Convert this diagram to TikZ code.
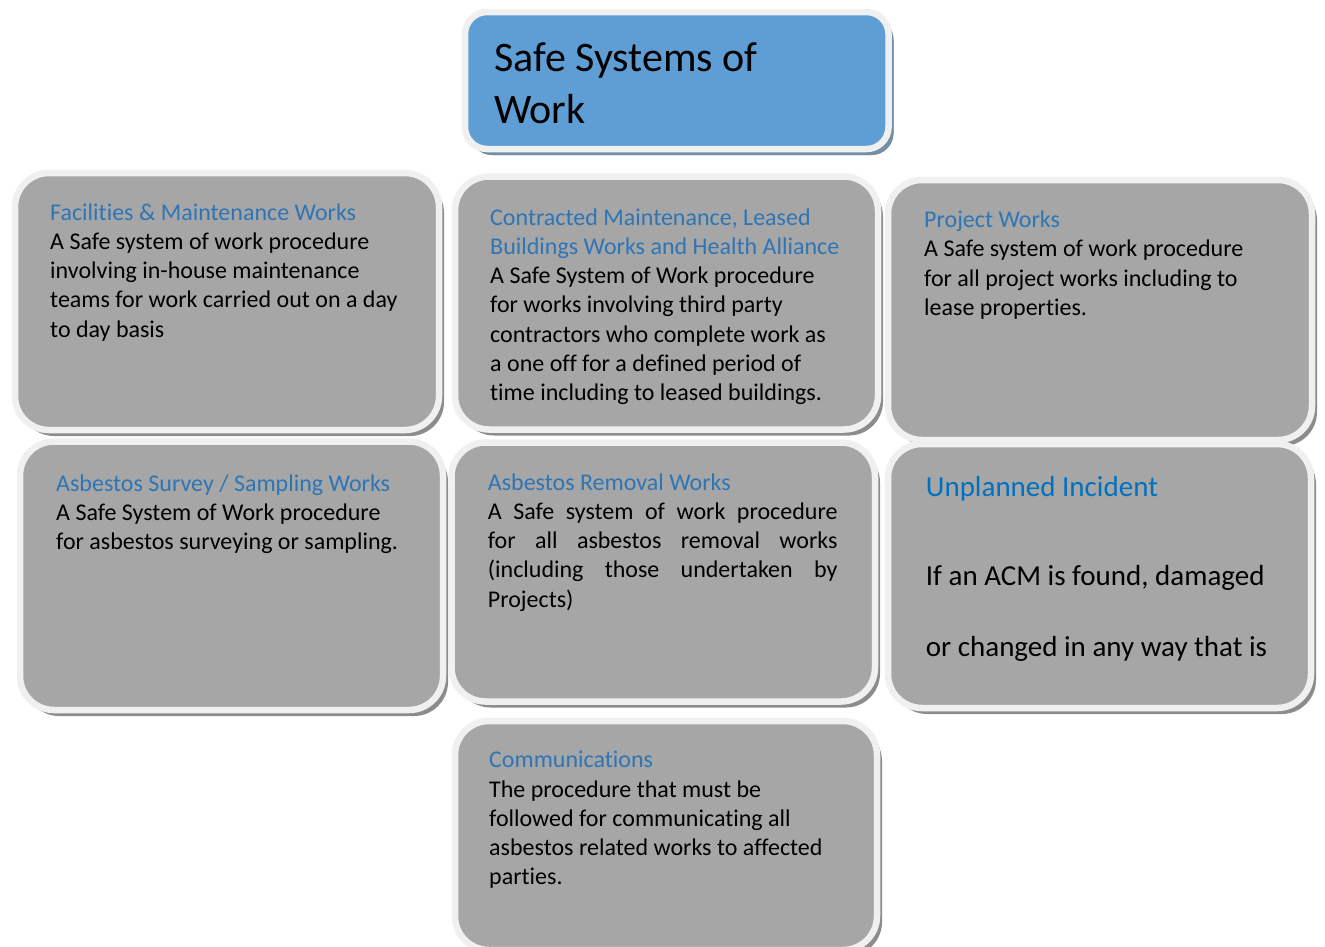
\documentclass[tikz,border=0pt]{standalone}
\usepackage{fontspec}
\setmainfont{Carlito}[Ligatures=NoCommon]
\usetikzlibrary{shadows}
\definecolor{boxgray}{HTML}{A6A6A6}
\definecolor{rimgray}{HTML}{F0F0F0}
\definecolor{headblue}{HTML}{2E75B6}
\definecolor{incblue}{HTML}{0070C0}
\definecolor{titleblue}{HTML}{5F9DD5}

\begin{document}
\begin{tikzpicture}[x=1pt,y=-1pt,
	panel/.style={draw=rimgray, line width=6.5pt, fill=boxgray, rounded corners=34pt, inner sep=0pt,
		drop shadow={shadow xshift=5pt, shadow yshift=-6pt, fill=black!45, opacity=1}},
	titlepanel/.style={panel, fill=titleblue, rounded corners=22pt,
		drop shadow={shadow xshift=5pt, shadow yshift=-6pt, fill=black!40!titleblue!70, opacity=1}},
	txt/.style={anchor=base west, inner sep=0pt, text width=380pt, align=flush left, font=\fontsize{24}{29.3}\selectfont},
	head/.style={text=headblue}]
		\useasboundingbox (0,0) rectangle (1325,946);
		\node[titlepanel, minimum width=423.5pt, minimum height=137pt] (sswBox) at (676.75,80.5) {};
		\node[txt, font=\fontsize{42}{51.7}\selectfont] (ssw) at (494,71.7) {Safe Systems of\\Work};

		\node[panel, minimum width=424pt, minimum height=257pt] (facBox) at (227,301.5) {};
		\node[txt] (fac) at (50,220) {\textcolor{headblue}{Facilities \& Maintenance Works}\\
			A Safe system of work procedure\\
			involving in-house maintenance\\
			teams for work carried out on a day\\
			to day basis};

		\node[panel, minimum width=423pt, minimum height=253pt] (conBox) at (666.5,303) {};
		\node[txt] (con) at (490,225) {\textcolor{headblue}{Contracted Maintenance, Leased}\\
			\textcolor{headblue}{Buildings Works and Health Alliance}\\
			A Safe System of Work procedure\\
			for works involving third party\\
			contractors who complete work as\\
			a one off for a defined period of\\
			time including to leased buildings.};

		\node[panel, minimum width=424pt, minimum height=260pt] (proBox) at (1100,310) {};
		\node[txt] (pro) at (924,227.5) {\textcolor{headblue}{Project Works}\\
			A Safe system of work procedure\\
			for all project works including to\\
			lease properties.};

		\node[panel, minimum width=423pt, minimum height=268.5pt] (surBox) at (231.5,575.75) {};
		\node[txt] (sur) at (56,491) {\textcolor{headblue}{Asbestos Survey / Sampling Works}\\
			A Safe System of Work procedure\\
			for asbestos surveying or sampling.};

		\node[panel, minimum width=423.5pt, minimum height=259pt] (remBox) at (663.25,572) {};
		\node[txt, text width=349.6pt, align=justify] (rem) at (487.7,490) {\textcolor{headblue}{Asbestos Removal Works}\\
			A Safe system of work procedure\linebreak
			for all asbestos removal works\linebreak
			(including those undertaken by\linebreak
			Projects)};

		\node[panel, minimum width=423pt, minimum height=264pt] (unpBox) at (1099.5,576) {};
		\node[txt, font=\fontsize{29}{71.7}\selectfont] (unp) at (925.7,496.7) {\textcolor{incblue}{Unplanned Incident}\\[16.6pt]
			If an ACM is found, damaged\\
			or changed in any way that is};

		\node[panel, minimum width=422pt, minimum height=229pt] (comBox) at (666,835.5) {};
		\node[txt] (com) at (489,767.7) {\textcolor{headblue}{Communications}\\
			The procedure that must be\\
			followed for communicating all\\
			asbestos related works to affected\\
			parties.};
	\end{tikzpicture}
\end{document}
